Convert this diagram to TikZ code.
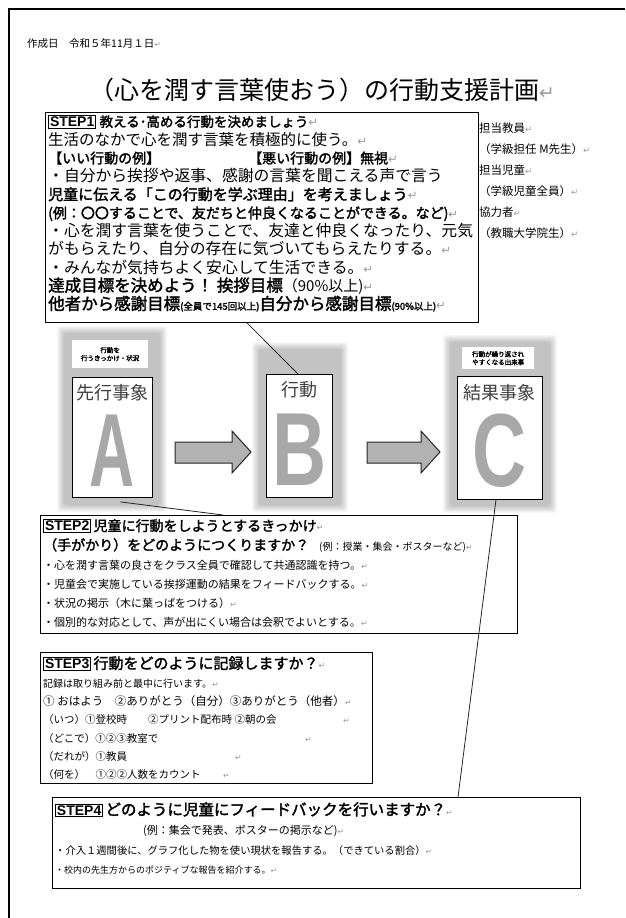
\documentclass[tikz,border=0pt]{standalone}
\usepackage{fontspec}
\setmainfont{Noto Sans CJK JP}[BoldFont={Noto Sans CJK JP}, BoldFeatures={FakeBold=2}]
\newfontfamily\lsans{Liberation Sans}
\newfontfamily\djv{DejaVu Sans}
\usetikzlibrary{calc}
\pgfdeclarelayer{bg}
\pgfsetlayers{bg,main}
\definecolor{letgray}{gray}{0.66}
\newcommand\rmk{{\color{black!40}\djv\scalebox{0.75}{↵}}}
\newcommand\steplab[1]{{\setlength\fboxsep{1pt}\setlength\fboxrule{0.8pt}\fbox{\lsans\bfseries\fontsize{14}{14}\selectfont #1}}}
\newcommand\halo[4]{\foreach \k in {0,...,7}{\fill[black,opacity=0.03,rounded corners=3pt] ({#1-\k},{#2-\k}) rectangle ({#3+\k},{#4+\k});}}
\newcommand\shadowof[1]{\begin{pgfonlayer}{bg}\foreach \k in {0,...,5}{\fill[black,opacity=0.05] ($(#1.north west)+({4-\k*0.8},{5-\k*0.8})$) rectangle ($(#1.south east)+({3+\k*0.8},{3+\k*0.8})$);}\end{pgfonlayer}}
\begin{document}
\begin{tikzpicture}[x=1pt,y=-1pt,
  box/.style={draw=black, line width=0.9pt, fill=white, inner sep=0pt, anchor=north west},
  plainbox/.style={fill=white, inner sep=0pt, anchor=north west},
  txt/.style={inner sep=0pt, align=left, anchor=north west},
  letter/.style={text=letgray, inner sep=0pt, font=\lsans\bfseries\fontsize{104}{104}\selectfont},
  head/.style={text=black!75, inner sep=0pt, font=\fontsize{18}{18}\selectfont},
  tag/.style={inner sep=0pt, align=center, font=\bfseries\fontsize{6.5}{8}\selectfont},
  blockarrow/.style={draw=black!85, line width=1pt, fill=black!30, line join=miter},
  link/.style={draw=black!85, line width=0.8pt}]
\useasboundingbox (0,0) rectangle (625,918);
\fill[white] (0,0) rectangle (625,918);
\draw[line width=1.2pt] (9,918) -- (9,9) -- (625,9);

% header
\node[anchor=west, inner sep=0pt, font=\fontsize{10.5}{12}\selectfont] (date) at (27,44) {作成日　令和５年11月１日\rmk};
\node[inner sep=0pt, font=\fontsize{25}{28}\selectfont] (title) at (322,90) {（心を潤す言葉使おう）の行動支援計画\rmk};

% STEP1
\node[box, minimum width=433pt, minimum height=210pt] (s1) at (45,112) {};
\shadowof{s1}
\node[txt, font=\fontsize{15.5}{18.3}\selectfont] (t1) at ($(s1.north west)+(3,3)$) {%
\steplab{STEP1}\ {\bfseries\fontsize{13.5}{18.3}\selectfont 教える･高める行動を決めましょう}\rmk\\
生活のなかで心を潤す言葉を積極的に使う。\rmk\\
{\bfseries\fontsize{14}{18.3}\selectfont\makebox[200pt][l]{【いい行動の例】}【悪い行動の例】無視}\rmk\\
{\fontsize{15.8}{18.3}\selectfont ・自分から挨拶や返事、感謝の言葉を聞こえる声で言う}\\
{\bfseries\fontsize{15}{18.3}\selectfont 児童に伝える「この行動を学ぶ理由」を考えましょう}\rmk\\
{\bfseries\fontsize{14}{18.3}\selectfont (例：〇〇することで、友だちと仲良くなることができる。など)}\rmk\\
{\fontsize{15.8}{18.3}\selectfont ・心を潤す言葉を使うことで、友達と仲良くなったり、元気}\\
{\fontsize{15.8}{18.3}\selectfont がもらえたり、自分の存在に気づいてもらえたりする。}\rmk\\
{\fontsize{15.8}{18.3}\selectfont ・みんなが気持ちよく安心して生活できる。}\rmk\\
{\bfseries\fontsize{16.5}{18.3}\selectfont 達成目標を決めよう！ 挨拶目標}{\fontsize{15}{18.3}\selectfont （90\%以上)}\rmk\\
{\bfseries\fontsize{16.5}{18.3}\selectfont 他者から感謝目標{\fontsize{9.5}{18.3}\selectfont (全員で145回以上)}自分から感謝目標{\fontsize{9.5}{18.3}\selectfont (90\%以上)}}\rmk
};

% right info
\node[txt, font=\fontsize{11.5}{21}\selectfont] (info) at (479,123) {%
担当教員\rmk\\
（学級担任 M先生）\rmk\\
担当児童\rmk\\
（学級児童全員）\rmk\\
協力者\rmk\\
（教職大学院生）\rmk};

% halos behind A, B, C
\halo{64}{333}{160}{505}
\halo{259}{349}{341}{505}
\halo{450}{342}{550}{506}

% A
\node[plainbox, minimum width=76pt, minimum height=28pt] (LA) at (72,340) {};
\node[tag] (tagA) at (LA.center) {行動を\\行うきっかけ・状況};
\node[box, minimum width=80pt, minimum height=120pt] (A) at (72,377) {};
\node[head] (hA) at (112,393) {先行事象};
\node[letter] (bigA) at (112,451) {\scalebox{0.6}[1]{A}};

% B
\node[box, minimum width=66pt, minimum height=123pt] (B) at (266,374) {};
\node[head] (hB) at (299,390) {行動};
\node[letter] (bigB) at (300,450) {\scalebox{0.72}[1]{B}};

% C
\node[plainbox, minimum width=72pt, minimum height=22pt] (LC) at (462,347) {};
\node[tag] (tagC) at (LC.center) {行動が繰り返され\\やすくなる出来事};
\node[box, minimum width=85pt, minimum height=123pt] (C) at (457,376) {};
\node[head] (hC) at (499.5,393) {結果事象};
\node[letter] (bigC) at (499.5,451) {\scalebox{0.72}[1]{C}};

% block arrows
\draw[blockarrow] (175,442) -- (232,442) -- (232,431) -- (251,452) -- (232,473) -- (232,463) -- (175,463) -- cycle;
\draw[blockarrow] (367,442) -- (421,442) -- (421,431) -- (440,452) -- (421,473) -- (421,463) -- (367,463) -- cycle;

% STEP2
\node[box, minimum width=477pt, minimum height=118pt] (s2) at (40,515) {};
\shadowof{s2}
\node[txt, font=\fontsize{11}{19.2}\selectfont] (t2) at ($(s2.north west)+(3,4)$) {%
\steplab{STEP2}\ {\bfseries\fontsize{14}{19.2}\selectfont 児童に行動をしようとするきっかけ}\rmk\\
{\bfseries\fontsize{14}{19.2}\selectfont （手がかり）をどのようにつくりますか？}{\fontsize{10}{19.2}\selectfont\quad (例：授業・集会・ポスターなど)}\rmk\\
・心を潤す言葉の良さをクラス全員で確認して共通認識を持つ。\rmk\\
・児童会で実施している挨拶運動の結果をフィードバックする。\rmk\\
・状況の掲示（木に葉っぱをつける）\rmk\\
・個別的な対応として、声が出にくい場合は会釈でよいとする。\rmk};

% STEP3
\node[box, minimum width=332pt, minimum height=131pt] (s3) at (40,652) {};
\shadowof{s3}
\node[txt, font=\fontsize{10.5}{18.3}\selectfont] (t3) at ($(s3.north west)+(3,4)$) {%
\steplab{STEP3}\ {\bfseries\fontsize{15}{18.3}\selectfont 行動をどのように記録しますか？}\rmk\\
{\fontsize{10}{19.5}\selectfont 記録は取り組み前と最中に行います。}\rmk\\
{\fontsize{11.5}{18.3}\selectfont ① おはよう　②ありがとう（自分）③ありがとう（他者）}\rmk\\
\makebox[300pt][l]{（いつ）①登校時　　②プリント配布時 ②朝の会}\rmk\\
\makebox[262pt][l]{（どこで）①②③教室で}\rmk\\
\makebox[192pt][l]{（だれが）①教員}\rmk\\
\makebox[180pt][l]{（何を）　①②②人数をカウント}\rmk};

% STEP4
\node[box, minimum width=528pt, minimum height=91pt] (s4) at (52,797) {};
\shadowof{s4}
\node[txt, font=\fontsize{10.3}{19.5}\selectfont] (t4) at ($(s4.north west)+(3,5)$) {%
\steplab{STEP4}\ {\bfseries\fontsize{15.5}{19.5}\selectfont どのように児童にフィードバックを行いますか？}\rmk\\
{\fontsize{11}{19.5}\selectfont\hspace*{88pt}(例：集会で発表、ポスターの掲示など)}\rmk\\
・介入１週間後に、グラフ化した物を使い現状を報告する。（できている割合）\rmk\\
{\fontsize{9}{19.5}\selectfont ・校内の先生方からのポジティブな報告を紹介する。}\rmk};

% connectors
\coordinate (k1) at ($(s1.south west)+(202,0)$);
\coordinate (k2) at ($(B.north west)+(32,0)$);
\draw[link] (k1) -- (k2);
\coordinate (k3) at ($(A.south)+(8,4)$);
\coordinate (k4) at ($(s2.north west)+(183,0)$);
\draw[link] (k3) -- (k4);
\coordinate (k5) at ($(C.south)+(-4,0)$);
\coordinate (k6) at ($(s4.north west)+(406,0)$);
\draw[link] (k5) -- (k6);
\end{tikzpicture}
\end{document}
